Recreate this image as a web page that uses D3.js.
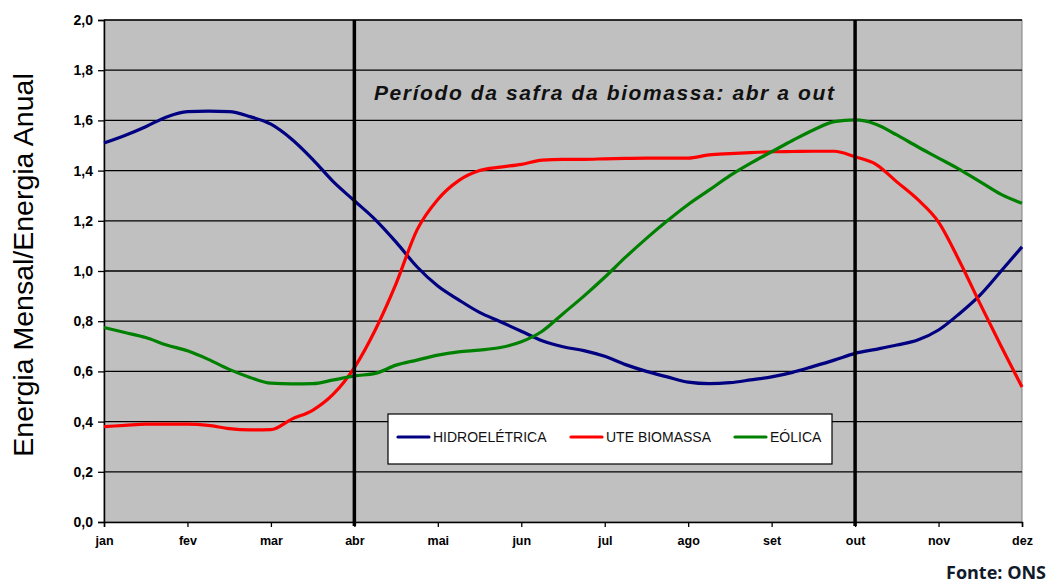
<!DOCTYPE html>
<html>
<head>
<meta charset="utf-8">
<script src="https://cdn.jsdelivr.net/npm/d3@7/dist/d3.min.js"></script>
<style>
  body { margin: 0; background: #fff; }
  svg { display: block; }
</style>
</head>
<body>
<svg id="chart" width="1055" height="585"></svg>
<script>
// ---- DATA ----
const meses = ["jan","fev","mar","abr","mai","jun","jul","ago","set","out","nov","dez"];
const yTicks = [0, 0.2, 0.4, 0.6, 0.8, 1.0, 1.2, 1.4, 1.6, 1.8, 2.0];
// positions in months (0 = jan ... 11 = dez), quarter-month steps
const posicao = d3.range(0, 11.0001, 0.25);
const hidroeletrica = [1.51,1.54,1.575,1.614,1.635,1.637,1.635,1.615,1.585,1.525,1.445,1.355,1.28,1.205,1.115,1.017,0.94,0.885,0.835,0.798,0.76,0.722,0.698,0.683,0.66,0.627,0.60,0.578,0.557,0.551,0.555,0.566,0.578,0.596,0.62,0.645,0.672,0.688,0.705,0.725,0.765,0.83,0.905,1.0,1.096];
const uteBiomassa = [0.38,0.385,0.39,0.39,0.39,0.385,0.372,0.367,0.368,0.41,0.445,0.51,0.615,0.765,0.95,1.163,1.285,1.36,1.40,1.414,1.425,1.442,1.445,1.445,1.447,1.449,1.45,1.45,1.45,1.463,1.468,1.472,1.475,1.476,1.477,1.477,1.455,1.425,1.355,1.285,1.195,1.04,0.868,0.70,0.538];
const eolica = [0.775,0.755,0.735,0.705,0.682,0.648,0.608,0.576,0.553,0.55,0.551,0.566,0.582,0.592,0.625,0.645,0.665,0.678,0.685,0.695,0.718,0.76,0.83,0.90,0.975,1.055,1.13,1.2,1.265,1.322,1.38,1.43,1.475,1.52,1.562,1.595,1.602,1.585,1.542,1.495,1.45,1.405,1.355,1.305,1.27];
const safra = ["abr", "out"];
const seriesNames = ["HIDROELÉTRICA", "UTE BIOMASSA", "EÓLICA"];
const seriesColors = ["#000080", "#ff0000", "#008000"];

// ---- LAYOUT ----
const svg = d3.select("#chart");
const pLeft = 104, pRight = 1022, pTop = 20, pBottom = 522;

const x = d3.scaleLinear().domain([0, 11]).range([pLeft, pRight]);
const y = d3.scaleLinear().domain([0, 2]).range([pBottom, pTop]);

// plot background
svg.append("rect")
  .attr("x", pLeft).attr("y", pTop)
  .attr("width", pRight - pLeft).attr("height", pBottom - pTop)
  .attr("fill", "#c0c0c0")
  .attr("stroke", "#808080").attr("stroke-width", 1);

// gridlines
svg.append("g").selectAll("line").data(yTicks.filter(d => d > 0)).join("line")
  .attr("x1", pLeft).attr("x2", pRight)
  .attr("y1", d => y(d)).attr("y2", d => y(d))
  .attr("stroke", "#000").attr("stroke-width", 1.3);

// axes
const fmt = d3.format(".1f");
const yAxis = d3.axisLeft(y).tickValues(yTicks).tickSize(6).tickPadding(5)
  .tickFormat(d => fmt(d).replace(".", ","));
const gy = svg.append("g").attr("transform", `translate(${pLeft},0)`).call(yAxis);
gy.select(".domain").attr("stroke", "#000").attr("stroke-width", 1.5);
gy.selectAll(".tick line").attr("stroke", "#000").attr("stroke-width", 1.3);
gy.selectAll("text").attr("font-family", "Liberation Sans, Arial, sans-serif")
  .attr("font-size", 14).attr("font-weight", "bold").attr("fill", "#000");

const xAxis = d3.axisBottom(x).tickValues(d3.range(12)).tickSize(5).tickPadding(9)
  .tickFormat(i => meses[i]);
const gx = svg.append("g").attr("transform", `translate(0,${pBottom})`).call(xAxis);
gx.select(".domain").attr("stroke", "#000").attr("stroke-width", 1.5);
gx.selectAll(".tick line").attr("stroke", "#000").attr("stroke-width", 1.3);
gx.selectAll("text").attr("font-family", "Liberation Sans, Arial, sans-serif")
  .attr("font-size", 12.5).attr("font-weight", "bold").attr("fill", "#000");

// series lines
const line = d3.line().x((d, i) => x(posicao[i])).y(d => y(d)).curve(d3.curveMonotoneX);
[hidroeletrica, uteBiomassa, eolica].forEach((vals, k) => {
  svg.append("path").datum(vals)
    .attr("d", line)
    .attr("fill", "none")
    .attr("stroke", seriesColors[k])
    .attr("stroke-width", 3.2)
    .attr("stroke-linejoin", "round");
});

// safra vertical lines
svg.append("g").selectAll("line").data(safra).join("line")
  .attr("x1", d => x(meses.indexOf(d))).attr("x2", d => x(meses.indexOf(d)))
  .attr("y1", pTop).attr("y2", pBottom + 4)
  .attr("stroke", "#000").attr("stroke-width", 3.5);

// annotation
svg.append("text")
  .attr("x", (x(3) + x(9)) / 2).attr("y", 100)
  .attr("text-anchor", "middle")
  .attr("font-family", "Liberation Sans, Arial, sans-serif")
  .attr("font-size", 21).attr("font-style", "italic").attr("font-weight", "bold")
  .attr("letter-spacing", 1.6)
  .attr("fill", "#111")
  .text("Período da safra da biomassa: abr a out");

// legend
const lg = svg.append("g");
lg.append("rect").attr("x", 388).attr("y", 414).attr("width", 444).attr("height", 50)
  .attr("fill", "#fff").attr("stroke", "#000").attr("stroke-width", 1.2);
const legX = [398, 571, 735];
seriesNames.forEach((name, k) => {
  lg.append("line").attr("x1", legX[k]).attr("x2", legX[k] + 31)
    .attr("y1", 437).attr("y2", 437)
    .attr("stroke", seriesColors[k]).attr("stroke-width", 3.2).attr("stroke-linecap", "round");
  lg.append("text").attr("x", legX[k] + 35).attr("y", 442)
    .attr("font-family", "Liberation Sans, Arial, sans-serif")
    .attr("font-size", 14).attr("fill", "#111")
    .text(name);
});

// y axis title
svg.append("text")
  .attr("transform", `translate(33, 265) rotate(-90)`)
  .attr("text-anchor", "middle")
  .attr("font-family", "Liberation Sans, Arial, sans-serif")
  .attr("font-size", 28.5).attr("fill", "#000")
  .text("Energia Mensal/Energia Anual");

// source
svg.append("text")
  .attr("x", 1046).attr("y", 579)
  .attr("text-anchor", "end")
  .attr("font-family", "Open Sans, sans-serif")
  .attr("font-size", 18).attr("font-weight", "bold").attr("fill", "#0f1a2a")
  .text("Fonte: ONS");
</script>
</body>
</html>
